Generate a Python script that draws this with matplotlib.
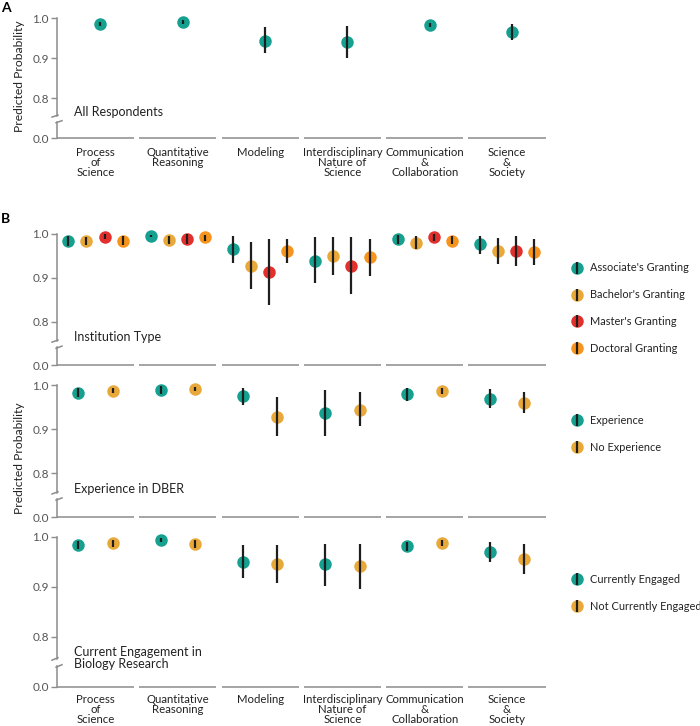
import numpy as np
import matplotlib.pyplot as plt
from matplotlib.lines import Line2D
from matplotlib.legend_handler import HandlerTuple
import matplotlib.transforms as mtransforms

plt.rcParams.update({'font.family': ['Lato', 'DejaVu Sans'], 'font.size': 8})

categories = ['Process\nof\nScience', 'Quantitative\nReasoning', 'Modeling',
              'Interdisciplinary\nNature of\nScience', 'Communication\n&\nCollaboration',
              'Science\n&\nSociety']

# panel A: all respondents (estimate, lower CI, upper CI)
all_est = [0.986, 0.990, 0.944, 0.941, 0.983, 0.965]
all_lo = [0.980, 0.985, 0.912, 0.902, 0.977, 0.946]
all_hi = [0.991, 0.995, 0.977, 0.981, 0.989, 0.986]

# institution type
inst_labels = ["Associate's Granting", "Bachelor's Granting", "Master's Granting", "Doctoral Granting"]
inst_est = [[0.985, 0.995, 0.965, 0.939, 0.988, 0.976],
            [0.985, 0.986, 0.927, 0.949, 0.980, 0.961],
            [0.994, 0.989, 0.913, 0.928, 0.992, 0.961],
            [0.985, 0.992, 0.960, 0.947, 0.984, 0.958]]
inst_lo = [[0.973, 0.992, 0.933, 0.887, 0.978, 0.954],
           [0.974, 0.976, 0.874, 0.906, 0.966, 0.932],
           [0.988, 0.978, 0.839, 0.864, 0.985, 0.926],
           [0.975, 0.984, 0.933, 0.903, 0.976, 0.929]]
inst_hi = [[0.995, 0.998, 0.995, 0.993, 0.997, 0.996],
           [0.994, 0.996, 0.981, 0.992, 0.995, 0.991],
           [0.999, 0.999, 0.988, 0.993, 0.999, 0.996],
           [0.995, 0.998, 0.989, 0.989, 0.996, 0.988]]

# experience in DBER
exp_labels = ['Experience', 'No Experience']
exp_est = [[0.983, 0.989, 0.975, 0.937, 0.980, 0.970],
           [0.988, 0.992, 0.929, 0.945, 0.987, 0.960]]
exp_lo = [[0.973, 0.981, 0.955, 0.885, 0.965, 0.949],
          [0.982, 0.987, 0.885, 0.907, 0.981, 0.936]]
exp_hi = [[0.994, 0.998, 0.995, 0.989, 0.995, 0.992],
          [0.994, 0.997, 0.973, 0.985, 0.993, 0.985]]

# current engagement in biology research
eng_labels = ['Currently Engaged', 'Not Currently Engaged']
eng_est = [[0.984, 0.993, 0.950, 0.945, 0.981, 0.969],
           [0.987, 0.985, 0.945, 0.941, 0.987, 0.955]]
eng_lo = [[0.976, 0.989, 0.917, 0.902, 0.972, 0.949],
          [0.980, 0.977, 0.907, 0.896, 0.981, 0.925]]
eng_hi = [[0.992, 0.997, 0.983, 0.986, 0.990, 0.989],
          [0.994, 0.994, 0.983, 0.985, 0.994, 0.985]]

teal = '#15a08f'
gold = '#e9a93a'
red = '#e2312d'
orange = '#f7941d'
grey = '#8c8c8c'

W, H = 700, 726
fig = plt.figure(figsize=(W / 100, H / 100), dpi=100)


def make_ax(top, bottom):
    return fig.add_axes([57 / W, 1 - bottom / H, 488.5 / W, (bottom - top) / H])


def style(ax, title, show_labels, lab_pad=7):
    ax.set_xlim(-0.468, 5.468)
    ax.set_ylim(0.7, 1.02)
    for s in ax.spines.values():
        s.set_visible(False)
    trans = mtransforms.blended_transform_factory(ax.transAxes, ax.transData)
    ax.plot([0, 0], [1.0, 0.756], color=grey, lw=1.1, transform=trans, clip_on=False)
    ax.plot([0, 0], [0.741, 0.7], color=grey, lw=1.1, transform=trans, clip_on=False)
    dx = 5 / 488.5
    ax.plot([-dx, 0.002], [0.753, 0.758], color=grey, lw=1.1, transform=trans, clip_on=False)
    ax.plot([-0.002, dx], [0.739, 0.744], color=grey, lw=1.1, transform=trans, clip_on=False)
    xc = np.arange(6)
    ax.hlines([0.7] * 6, xc - 0.468, xc + 0.468, color=grey, lw=1.1, clip_on=False)
    ax.set_yticks([0.7, 0.8, 0.9, 1.0])
    ax.set_yticklabels(['0.0', '0.8', '0.9', '1.0'])
    ax.tick_params(axis='y', length=4, width=1.0, color=grey, labelcolor='#555555', labelsize=8.5, pad=2)
    ax.set_xticks(range(6))
    if show_labels:
        ax.set_xticklabels(categories, linespacing=0.92)
    else:
        ax.set_xticklabels([])
    ax.tick_params(axis='x', length=0, labelsize=8.2, labelcolor='#222222', pad=lab_pad)
    ax.text(0.035, 0.765, title, transform=trans, fontsize=9, color='#222222',
            ha='left', va='center', linespacing=1.0)


def draw_group(ax, xs, est, lo, hi, color, ms=9):
    est = np.array(est)
    yerr = [est - np.array(lo), np.array(hi) - est]
    ax.plot(xs, est, 'o', color=color, ms=ms, mec='none', zorder=2)
    ax.errorbar(xs, est, yerr=yerr, fmt='none', ecolor='#1e1e1e', elinewidth=1.6, capsize=0, zorder=3)


def add_legend(ax, labels, colors, yfrac):
    handles = [(Line2D([], [], marker='o', color=c, ls='', ms=9, mec='none'),
                Line2D([], [], marker='|', color='#1e1e1e', ls='', ms=9, mew=1.6)) for c in colors]
    ax.legend(handles, labels, handler_map={tuple: HandlerTuple(ndivide=1, pad=0)},
              loc='center left', bbox_to_anchor=(1.053, yfrac), frameon=False,
              fontsize=7.9, handlelength=1.0, handletextpad=0.7, labelspacing=1.45,
              borderpad=0, borderaxespad=0, labelcolor='#222222')


x = np.arange(6)

# panel A
axA = make_ax(10.3, 138.3)
style(axA, 'All Respondents', True, lab_pad=6)
draw_group(axA, x + 0.06, all_est, all_lo, all_hi, teal)

# panel B: institution type
ax1 = make_ax(225.2, 365.4)
style(ax1, 'Institution Type', False)
inst_off = [-0.33, -0.11, 0.11, 0.33]
inst_col = [teal, gold, red, orange]
for k in range(4):
    draw_group(ax1, x + inst_off[k], inst_est[k], inst_lo[k], inst_hi[k], inst_col[k])
add_legend(ax1, inst_labels, inst_col, 0.407)

# experience
ax2 = make_ax(376.5, 517.3)
style(ax2, 'Experience in DBER', False)
for k, off in enumerate([-0.21, 0.21]):
    draw_group(ax2, x + off, exp_est[k], exp_lo[k], exp_hi[k], [teal, gold][k])
add_legend(ax2, exp_labels, [teal, gold], 0.59)

# engagement
ax3 = make_ax(526.7, 686.7)
style(ax3, 'Current Engagement in\nBiology Research', True, lab_pad=5)
ax3.texts[-1].set_y(0.758)
for k, off in enumerate([-0.21, 0.21]):
    draw_group(ax3, x + off, eng_est[k], eng_lo[k], eng_hi[k], [teal, gold][k])
add_legend(ax3, eng_labels, [teal, gold], 0.586)

fig.text(20 / W, 1 - 76 / H, 'Predicted Probability', rotation=90, ha='center', va='center',
         fontsize=8.7, color='#222222')
fig.text(20 / W, 1 - 458 / H, 'Predicted Probability', rotation=90, ha='center', va='center',
         fontsize=8.7, color='#222222')
fig.text(6 / W, 1 - 8 / H, 'A', fontsize=10, fontweight='bold', ha='center', va='center')
fig.text(6 / W, 1 - 219 / H, 'B', fontsize=10, fontweight='bold', ha='center', va='center')

fig.savefig('out.png', dpi=100)
